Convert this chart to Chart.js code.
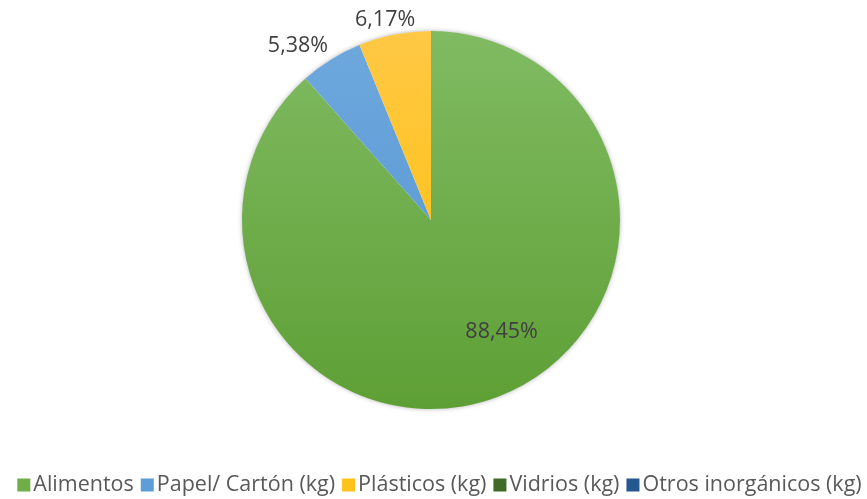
<!DOCTYPE html>
<html>
<head>
<meta charset="utf-8">
<script src="https://cdn.jsdelivr.net/npm/chart.js@4/dist/chart.umd.min.js"></script>
<style>
  html, body { margin: 0; padding: 0; background: #ffffff; }
  #wrap { width: 867px; height: 499px; position: relative; }
</style>
</head>
<body>
<div id="wrap"><canvas id="pie"></canvas></div>
<script>
// Waste composition by category (percent of total weight)
const categories = ['Alimentos', 'Papel/ Cartón (kg)', 'Plásticos (kg)', 'Vidrios (kg)', 'Otros inorgánicos (kg)'];
const shares = [88.45, 5.38, 6.17, 0, 0];

// Slice fills: light (top) and dark (bottom) gradient stops, plus a solid legend swatch
const topColors    = ['#80bb62', '#6ea8dd', '#ffc845', '#4a7530', '#2b6399'];
const bottomColors = ['#5e9f35', '#5394d1', '#ffbf00', '#3a6223', '#1f5186'];
const swatchColors = ['#6fae48', '#5d9dd8', '#ffc21a', '#3f6b27', '#25588f'];

// Label placement tweaks (degrees of rotation, radius factor) per slice
const labelTurn   = [-12, -5.2, -1.7, 0, 0];
const labelRadius = [0.69, 1.167, 1.096, 1.1, 1.1];

const FONT = '"Open Sans", "DejaVu Sans", sans-serif';

function sliceFill(ctx) {
  const chart = ctx.chart;
  const area = chart.chartArea;
  if (!area) return swatchColors[ctx.dataIndex];
  const g = chart.ctx.createLinearGradient(0, area.top, 0, area.bottom);
  g.addColorStop(0, topColors[ctx.dataIndex]);
  g.addColorStop(1, bottomColors[ctx.dataIndex]);
  return g;
}

// Soft shadow disc underneath the pie
const pieShadow = {
  id: 'pieShadow',
  beforeDatasetsDraw(chart) {
    const arc = chart.getDatasetMeta(0).data[0];
    if (!arc) return;
    const c = chart.ctx;
    c.save();
    c.shadowColor = 'rgba(0,0,0,0.35)';
    c.shadowBlur = 5;
    c.fillStyle = '#ffffff';
    c.beginPath();
    c.arc(arc.x, arc.y, arc.outerRadius - 0.5, 0, Math.PI * 2);
    c.fill();
    c.restore();
  }
};

// Percentage labels
const percentLabels = {
  id: 'percentLabels',
  afterDatasetsDraw(chart) {
    const c = chart.ctx;
    const meta = chart.getDatasetMeta(0);
    c.save();
    c.font = '21.5px ' + FONT;
    c.fillStyle = '#404040';
    c.textAlign = 'center';
    c.textBaseline = 'middle';
    meta.data.forEach((arc, i) => {
      const v = shares[i];
      if (!v) return;
      const mid = (arc.startAngle + arc.endAngle) / 2 + labelTurn[i] * Math.PI / 180;
      const r = arc.outerRadius * labelRadius[i];
      const x = arc.x + Math.cos(mid) * r;
      const y = arc.y + Math.sin(mid) * r + 2;
      c.fillText(v.toFixed(2).replace('.', ',') + '%', x, y);
    });
    c.restore();
  }
};

// Legend row under the pie
const bottomLegend = {
  id: 'bottomLegend',
  afterDraw(chart) {
    const c = chart.ctx;
    const box = 13, gapText = 3, gapItem = 7;
    c.save();
    c.font = '21.5px ' + FONT;
    c.textBaseline = 'middle';
    c.textAlign = 'left';
    const widths = categories.map(t => c.measureText(t).width);
    const total = widths.reduce((s, w) => s + box + gapText + w, 0) + gapItem * (categories.length - 1);
    let x = (chart.width - total) / 2 + 6;
    const yMid = 485;
    categories.forEach((t, i) => {
      c.fillStyle = swatchColors[i];
      c.fillRect(x, yMid - box / 2, box, box);
      x += box + gapText;
      c.fillStyle = '#595959';
      c.fillText(t, x, yMid);
      x += widths[i] + gapItem;
    });
    c.restore();
  }
};

new Chart(document.getElementById('pie'), {
  type: 'pie',
  data: {
    labels: categories,
    datasets: [{
      data: shares,
      backgroundColor: sliceFill,
      borderWidth: 0
    }]
  },
  options: {
    responsive: true,
    maintainAspectRatio: false,
    animation: false,
    layout: { padding: { top: 31, bottom: 90, left: 0, right: 5 } },
    plugins: {
      legend: { display: false },
      tooltip: { enabled: false }
    }
  },
  plugins: [pieShadow, percentLabels, bottomLegend]
});
</script>
</body>
</html>
